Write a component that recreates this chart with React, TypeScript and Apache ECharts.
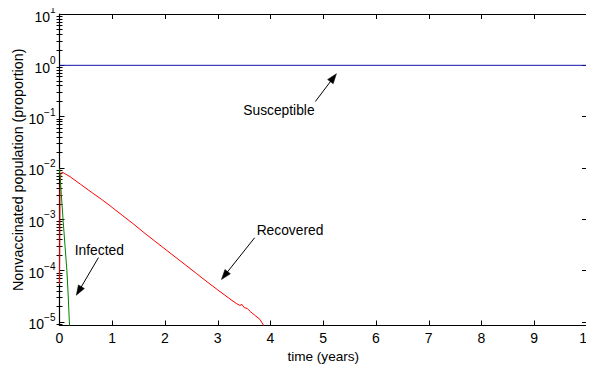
import React, { useEffect, useRef } from "react";
import * as echarts from "echarts";

// Infected fraction (green)
const tInfected = [0, 0.035, 0.07, 0.105, 0.14, 0.165, 0.19];
const infected = [0.0098, 0.003, 0.0009, 0.0003, 0.0001, 0.000032, 0.0000085];

// Recovered fraction (red)
const tRecovered = [
  0, 0.01, 0.025, 0.05, 0.1, 0.2, 0.4, 0.6, 0.8, 1.0, 1.2, 1.4, 1.6, 1.8, 2.0,
  2.25, 2.4, 2.6, 2.8, 3.0, 3.2, 3.35, 3.42, 3.46, 3.5, 3.56, 3.62, 3.7, 3.8, 3.87,
];
const recovered = [
  0.000055, 0.004, 0.0076, 0.0083, 0.00776, 0.00676, 0.00479, 0.00339, 0.00243,
  0.0017, 0.00117, 0.000813, 0.00055, 0.00038, 0.000263, 0.000166, 0.000126,
  0.000087, 0.00006, 0.000042, 0.0000295, 0.0000229, 0.0000209, 0.0000219,
  0.000019, 0.0000182, 0.0000158, 0.0000135, 0.0000112, 0.0000085,
];

// Susceptible fraction (blue)
const tSusceptible = [0, 10];
const susceptible = [1, 1];

// Axis ticks
const xTicks = [0, 1, 2, 3, 4, 5, 6, 7, 8, 9, 10];
const yDecades = [1e-5, 1e-4, 1e-3, 1e-2, 1e-1, 1, 10];
const minorMantissas = [2, 3, 4, 5, 6, 7, 8, 9];

// Annotations: label position and arrow tail/head, in (years, proportion)
const notes = [
  { text: "Susceptible", at: [4.16, 0.132], tail: [4.85, 0.197], head: [5.25, 0.687] },
  { text: "Recovered", at: [4.37, 0.000596], tail: [3.7, 0.000437], head: [3.07, 0.000067] },
  { text: "Infected", at: [0.754, 0.000245], tail: [0.739, 0.000179], head: [0.319, 0.000033] },
];

const Y_TITLE = "Nonvaccinated population (proportion)";
const X_TITLE = "time (years)";

const FONT = "'Liberation Sans', Arial, Helvetica, sans-serif";
const Y_MIN = 8.5e-6;
const Y_MAX = 10;
const GRID = { left: 59.5, right: 7, top: 14, bottom: 39.5 };
const HEIGHT = 365;

const minorTicks: number[] = [];
[1e-6, 1e-5, 1e-4, 1e-3, 1e-2, 1e-1, 1].forEach((d) =>
  minorMantissas.forEach((m) => {
    const v = m * d;
    if (v >= Y_MIN && v <= Y_MAX) minorTicks.push(v);
  })
);

const pairs = (t: number[], v: number[]) => t.map((x, i) => [x, v[i]]);

const decadeLabel = (v: number) => {
  const e = Math.round(Math.log10(v));
  const s = e < 0 ? "\u2212" + Math.abs(e) : String(e);
  return `{b|10}{e|${s}}`;
};

export default function App() {
  const ref = useRef<HTMLDivElement>(null);

  useEffect(() => {
    if (!ref.current) return;
    const chart = echarts.init(ref.current, null, { renderer: "svg" });

    const yBase = {
      type: "log" as const,
      logBase: 10,
      min: Y_MIN,
      max: Y_MAX,
      splitLine: { show: false },
      axisLabel: { show: false },
    };

    chart.setOption({
      animation: false,
      backgroundColor: "#ffffff",
      textStyle: { fontFamily: FONT },
      grid: { ...GRID, containLabel: false, outerBoundsMode: "none" },
      xAxis: [
        {
          type: "value",
          position: "bottom",
          min: 0,
          max: 10,
          interval: 1,
          name: X_TITLE,
          nameLocation: "middle",
          nameGap: 16,
          nameTextStyle: { fontSize: 13.6, color: "#000", fontFamily: FONT },
          axisLine: { show: true, onZero: false, lineStyle: { color: "#000", width: 1.2 } },
          axisTick: { show: true, inside: true, length: 5, lineStyle: { color: "#000" } },
          axisLabel: {
            show: true,
            margin: 5,
            fontSize: 14,
            color: "#000",
            fontFamily: FONT,
            customValues: xTicks,
          },
          splitLine: { show: false },
        },
        {
          type: "value",
          position: "top",
          min: 0,
          max: 10,
          interval: 1,
          axisLine: { show: true, onZero: false, lineStyle: { color: "#000", width: 1.2 } },
          axisTick: { show: true, inside: true, length: 5, lineStyle: { color: "#000" } },
          axisLabel: { show: false },
          splitLine: { show: false },
        },
      ],
      yAxis: [
        {
          ...yBase,
          position: "left",
          axisLine: { show: true, onZero: false, lineStyle: { color: "#000", width: 1.2 } },
          axisTick: {
            show: true,
            inside: true,
            length: 5,
            customValues: yDecades,
            lineStyle: { color: "#000" },
          },
          axisLabel: {
            show: true,
            margin: 4,
            customValues: yDecades,
            formatter: decadeLabel,
            color: "#000",
            fontFamily: FONT,
            rich: {
              b: { fontSize: 14, fontFamily: FONT, color: "#000", verticalAlign: "bottom" },
              e: { fontSize: 10, fontFamily: FONT, color: "#000", verticalAlign: "top", padding: [0, 0, 9, 0] },
            },
          },
        },
        {
          ...yBase,
          position: "left",
          axisLine: { show: false },
          axisTick: {
            show: true,
            inside: true,
            length: 3,
            customValues: minorTicks,
            lineStyle: { color: "#000" },
          },
        },
        {
          ...yBase,
          position: "right",
          axisLine: { show: true, onZero: false, lineStyle: { color: "#000", width: 1.2 } },
          axisTick: {
            show: true,
            inside: true,
            length: 5,
            customValues: yDecades,
            lineStyle: { color: "#000" },
          },
        },
        {
          ...yBase,
          position: "right",
          axisLine: { show: false },
          axisTick: {
            show: true,
            inside: true,
            length: 3,
            customValues: minorTicks,
            lineStyle: { color: "#000" },
          },
        },
      ],
      series: [
        {
          name: "Susceptible",
          type: "line",
          data: pairs(tSusceptible, susceptible),
          showSymbol: false,
          lineStyle: { color: "#1414a8", width: 1 },
          clip: true,
        },
        {
          name: "Recovered",
          type: "line",
          data: pairs(tRecovered, recovered),
          showSymbol: false,
          lineStyle: { color: "#ff0000", width: 1 },
          clip: true,
        },
        {
          name: "Infected",
          type: "line",
          data: pairs(tInfected, infected),
          showSymbol: false,
          lineStyle: { color: "#008000", width: 1 },
          clip: true,
        },
      ],
    });

    const graphics: any[] = [];

    // Vertical y-axis title, centred on the plot height
    graphics.push({
      type: "text",
      x: 18,
      y: (GRID.top + (HEIGHT - GRID.bottom)) / 2,
      rotation: Math.PI / 2,
      style: {
        text: Y_TITLE,
        fontSize: 14.3,
        fontFamily: FONT,
        fill: "#000",
        align: "center",
        verticalAlign: "middle",
      },
    });

    // Arrowed text annotations placed through the axes' own scales
    const px = (p: number[]) => chart.convertToPixel({ xAxisIndex: 0, yAxisIndex: 0 }, p) as number[];
    notes.forEach((n) => {
      const c = px(n.at);
      const a = px(n.tail);
      const b = px(n.head);
      const dx = b[0] - a[0];
      const dy = b[1] - a[1];
      const len = Math.hypot(dx, dy);
      const ux = dx / len;
      const uy = dy / len;
      const hl = 10;
      const hw = 3.5;
      const bx = b[0] - ux * hl;
      const by = b[1] - uy * hl;
      graphics.push({
        type: "text",
        x: c[0],
        y: c[1],
        style: {
          text: n.text,
          fontSize: 13.8,
          fontFamily: FONT,
          fill: "#000",
          align: "center",
          verticalAlign: "middle",
        },
      });
      graphics.push({
        type: "line",
        shape: { x1: a[0], y1: a[1], x2: bx + ux * 2, y2: by + uy * 2 },
        style: { stroke: "#000", lineWidth: 1 },
      });
      graphics.push({
        type: "polygon",
        shape: {
          points: [
            [b[0], b[1]],
            [bx - uy * hw, by + ux * hw],
            [bx + uy * hw, by - ux * hw],
          ],
        },
        style: { fill: "#000", stroke: "#000", lineWidth: 0.5 },
      });
    });
    chart.setOption({ graphic: graphics });

    return () => chart.dispose();
  }, []);

  return <div ref={ref} style={{ width: 594, height: HEIGHT, marginLeft: -8, marginTop: -8 }} />;
}
